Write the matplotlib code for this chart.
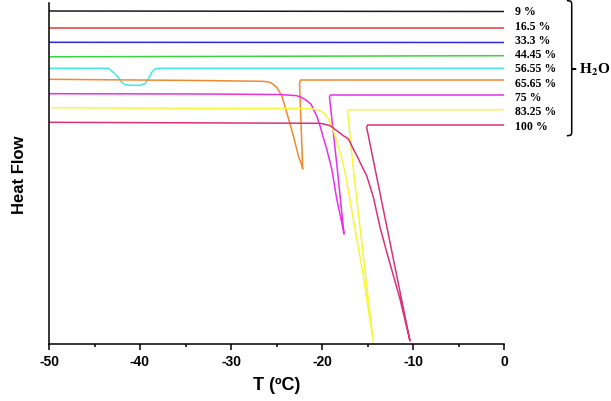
import numpy as np
import matplotlib
matplotlib.use("Agg")
import matplotlib.pyplot as plt

plt.rcParams["axes.unicode_minus"] = False
plt.rcParams["mathtext.fontset"] = "stix"

# water content of each sample (labels on the right)
labels = ["9 %", "16.5 %", "33.3 %", "44.45 %", "56.55 %", "65.65 %", "75 %", "83.25 %", "100 %"]
colors = ["#1a1a1a", "#e8373a", "#2b2bd9", "#3cd43c", "#40e8e8",
          "#f08a30", "#e830e8", "#f7f73a", "#d9327a"]

# temperature (degC) and heat flow (arb. units)
t_9 = [-50, 0]
hf_9 = [33.30, 33.25]

t_16 = [-50, 0]
hf_16 = [31.60, 31.60]

t_33 = [-50, 0]
hf_33 = [30.17, 30.15]

t_44 = [-50, 0]
hf_44 = [28.72, 28.83]

t_56 = [-50, -43.48, -42.93, -42.38, -42.01, -41.65, -41.10, -40.0, -39.45,
        -39.09, -38.71, -38.35, -37.99, 0]
hf_56 = [27.57, 27.57, 27.17, 26.67, 26.17, 25.93, 25.87, 25.87, 26.03,
         26.50, 27.17, 27.50, 27.57, 27.57]

t_65 = [-50, -33.41, -26.59, -26.15, -25.71, -25.38, -24.98, -24.73, -24.43,
        -24.18, -23.88, -23.15, -22.60, -22.25, -22.12, -22.47, -22.36, -21.76, 0]
hf_65 = [26.47, 26.35, 26.27, 26.24, 26.17, 25.97, 25.67, 25.30, 24.83,
         24.10, 23.17, 20.83, 18.83, 17.95, 17.50, 26.10, 26.40, 26.40, 26.40]

t_75 = [-50, -33.41, -24.62, -22.78, -22.20, -21.68, -21.21, -20.96, -20.58,
        -20.22, -19.86, -19.48, -18.93, -18.38, -17.84, -17.58, -18.32, -19.18,
        -19.07, 0]
hf_75 = [25.03, 25.00, 24.95, 24.83, 24.65, 24.33, 24.00, 23.50, 22.80,
         21.83, 20.65, 19.50, 17.50, 14.50, 12.20, 11.00, 17.50, 24.70,
         24.90, 24.90]

t_83 = [-49.59, -33.41, -22.42, -20.96, -20.44, -19.86, -19.45, -19.12, -18.85,
        -18.57, -18.02, -17.47, -16.56, -15.46, -14.36, -16.56, -17.18, -17.09, 0]
hf_83 = [23.63, 23.57, 23.55, 23.50, 23.40, 23.17, 22.75, 22.17, 21.55,
         20.83, 19.17, 17.20, 12.50, 6.83, 0.17, 17.50, 23.20, 23.43, 23.43]

t_100 = [-50, -20.22, -19.67, -19.12, -18.79, -18.38, -18.02, -17.66, -17.36,
         -17.11, -16.87, -16.56, -16.18, -15.82, -15.46, -15.09, -14.36, -13.63,
         -12.89, -11.43, -10.33, -15.09, -15.0, 0]
hf_100 = [22.17, 22.07, 21.97, 21.83, 21.62, 21.33, 21.10, 20.83, 20.67,
          20.50, 20.10, 19.50, 18.85, 18.17, 17.50, 16.83, 14.70, 11.70,
          9.20, 4.50, 0.30, 21.65, 21.90, 21.90]

curves_t = [t_9, t_16, t_33, t_44, t_56, t_65, t_75, t_83, t_100]
curves_hf = [hf_9, hf_16, hf_33, hf_44, hf_56, hf_65, hf_75, hf_83, hf_100]

sans = "Liberation Sans"
serif = "Liberation Serif"

fig = plt.figure(figsize=(6.11, 4.02), dpi=100)
ax = fig.add_axes([49 / 611, 1 - 345 / 402, 455 / 611, 341 / 402])

for t, hf, c in zip(curves_t, curves_hf, colors):
    ax.plot(t, hf, color=c, lw=1.1, solid_joinstyle="round")

ax.set_xlim(-50, 0)
ax.set_ylim(0, 34.1)
ax.set_yticks([])
ax.set_xticks(np.arange(-50, 1, 10))
ax.set_xticks(np.arange(-45, 0, 10), minor=True)
ax.tick_params(axis="x", which="major", direction="out", length=4, width=1.1, pad=3)
ax.tick_params(axis="x", which="minor", direction="out", length=2.5, width=1.1)
for lab in ax.get_xticklabels():
    lab.set_fontfamily(sans)
    lab.set_fontweight("bold")
    lab.set_fontsize(10)

for side in ["top", "right"]:
    ax.spines[side].set_visible(False)
for side in ["left", "bottom"]:
    ax.spines[side].set_linewidth(1.1)

ax.set_xlabel("T (ºC)", fontfamily=sans, fontweight="bold", fontsize=13, labelpad=6)
ax.set_ylabel("Heat Flow", fontfamily=sans, fontweight="bold", fontsize=12, labelpad=16)

# sample labels on the right, evenly stacked
label_y = np.linspace(33.27, 21.83, len(labels))
for lab, y in zip(labels, label_y):
    ax.text(1.2, y, lab, fontfamily=serif, fontweight="bold", fontsize=8.5,
            va="center", ha="left", clip_on=False)

# curly bracket grouping the labels
bx, top, bot, mid = 7.44, 34.33, 20.83, 27.5
ax.plot([bx - 0.45, bx - 0.1, bx, bx, bx + 0.45, bx, bx, bx - 0.1, bx - 0.45],
        [top, top - 0.05, top - 0.25, mid + 0.05, mid, mid - 0.05, bot + 0.25, bot + 0.05, bot],
        color="black", lw=1.1, clip_on=False)
ax.text(bx + 0.85, mid, "H$_\\mathbf{2}$O", fontfamily=serif, fontweight="bold",
        fontsize=11, va="center", ha="left", clip_on=False)

fig.savefig("out.png", dpi=100)
